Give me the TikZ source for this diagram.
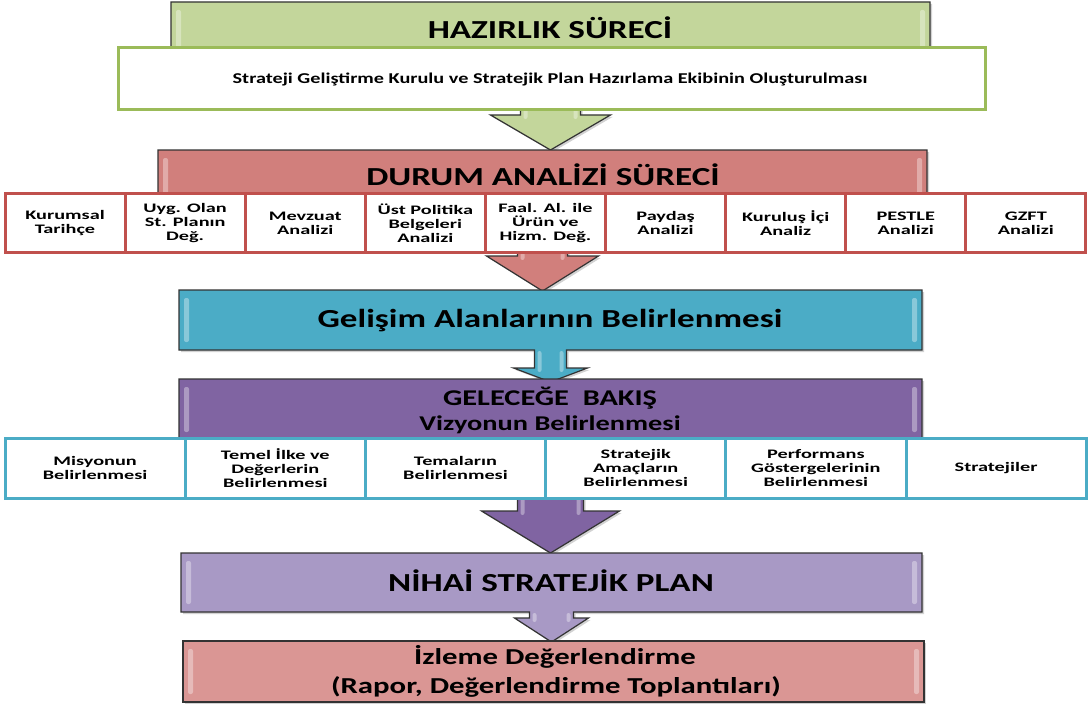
\documentclass[tikz,border=0pt]{standalone}
\usepackage{fontspec}
\setmainfont{Carlito}[FakeStretch=1.35]
\newfontfamily\cellfont{Carlito}[FakeStretch=1.56]
\usetikzlibrary{shadows}
\definecolor{grfill}{HTML}{C3D69B}
\definecolor{grline}{HTML}{9BBB59}
\definecolor{rdfill}{HTML}{D17F7C}
\definecolor{rdline}{HTML}{C0504D}
\definecolor{blfill}{HTML}{4BACC6}
\definecolor{ppfill}{HTML}{8064A2}
\definecolor{lpfill}{HTML}{A899C5}
\definecolor{lrfill}{HTML}{DA9694}
\tikzset{
  calloutshape/.style={draw=black!80, line width=1.2pt, line join=miter,
    drop shadow={shadow xshift=2pt, shadow yshift=-2pt, opacity=.35}},
  gloss/.style={fill=white, opacity=.35, rounded corners=2pt},
  title/.style={font=\bfseries\fontsize{26}{28}\selectfont, text=black, align=center},
  subtitle/.style={font=\bfseries\fontsize{22.5}{26}\selectfont, text=black, align=center},
  bottomtext/.style={font=\bfseries\fontsize{22.8}{26}\selectfont, text=black, align=center},
  redcell/.style={draw=rdline, fill=white, line width=3pt},
  bluecell/.style={draw=blfill, fill=white, line width=3pt},
  celltext/.style={font=\cellfont\bfseries\fontsize{13}{14}\selectfont, align=center, text=black},
  smalltext/.style={font=\bfseries\fontsize{15}{17}\selectfont, text=black}
}
% #1 fill, #2 x1, #3 y1, #4 x2, #5 y2, #6 shaft half, #7 y wing, #8 wing half, #9 y tip
\newcommand\drawcallout[9]{%
  \pgfmathsetmacro\cx{(#2+#4)/2}%
  \draw[calloutshape, fill=#1] (#2,#3) -- (#4,#3) -- (#4,#5) -- (\cx+#6,#5) -- (\cx+#6,#7)
    -- (\cx+#8,#7) -- (\cx,#9) -- (\cx-#8,#7) -- (\cx-#6,#7) -- (\cx-#6,#5) -- (#2,#5) -- cycle;
  \fill[gloss] (#2+5,#3+8) rectangle (#2+10,#5-8);
  \fill[gloss] (#4-10,#3+8) rectangle (#4-5,#5-8);
  \fill[gloss] (\cx-#6+3,#5+1) rectangle (\cx-#6+7,#7+4);
  \fill[gloss] (\cx+#6-7,#5+1) rectangle (\cx+#6-3,#7+4);
}
\begin{document}
\begin{tikzpicture}[x=1pt,y=-1pt]
\useasboundingbox[fill=white] (0,0) rectangle (1088,709);

% HAZIRLIK
\drawcallout{grfill}{171}{2}{930}{108}{30}{115}{60}{150}
\node[title] (hazirlik) at (550,28) {HAZIRLIK SÜRECİ};
\draw[draw=grline, fill=white, line width=3pt] (118,48) rectangle (985,110);
\node[smalltext] (kurul) at (550,79) {Strateji Geliştirme Kurulu ve Stratejik Plan Hazırlama Ekibinin Oluşturulması};

% DURUM ANALIZI
\drawcallout{rdfill}{158}{150}{927}{250}{25}{256}{56}{291}
\node[title] (durum) at (543,175) {DURUM ANALİZİ SÜRECİ};
\foreach \i/\t in {0/{Kurumsal\\Tarihçe},1/{Uyg. Olan\\St. Planın\\Değ.},2/{Mevzuat\\Analizi},
  3/{Üst Politika\\Belgeleri\\Analizi},4/{Faal. Al. ile\\Ürün ve\\Hizm. Değ.},5/{Paydaş\\Analizi},
  6/{Kuruluş İçi\\Analiz},7/{PESTLE\\Analizi},8/{GZFT\\Analizi}}{
  \pgfmathsetmacro\xa{5+\i*120.1}
  \pgfmathsetmacro\xb{5+(\i+1)*120.1}
  \draw[redcell] (\xa,193) rectangle (\xb,252);
  \node[celltext] (da\i) at ({(\xa+\xb)/2},223) {\t};
}

% GELISIM
\drawcallout{blfill}{179}{290}{922}{350}{16}{368}{37}{382}
\node[title] (gelisim) at (550,321) {Gelişim Alanlarının Belirlenmesi};

% GELECEGE BAKIS
\drawcallout{ppfill}{179}{379}{922}{440}{33}{511}{69}{553}
\node[subtitle] (gelecek) at (550,398) {GELECEĞE\ \ BAKIŞ};
\node[subtitle, font=\bfseries\fontsize{21}{24}\selectfont] (vizyon) at (550,425) {Vizyonun Belirlenmesi};
\foreach \i/\t in {0/{Misyonun\\Belirlenmesi},1/{Temel İlke ve\\Değerlerin\\Belirlenmesi},2/{Temaların\\Belirlenmesi},
  3/{Stratejik\\Amaçların\\Belirlenmesi},4/{Performans\\Göstergelerinin\\Belirlenmesi},5/{Stratejiler}}{
  \pgfmathsetmacro\xa{5+\i*180.2}
  \pgfmathsetmacro\xb{5+(\i+1)*180.2}
  \draw[bluecell] (\xa,438) rectangle (\xb,498);
  \node[celltext] (gb\i) at ({(\xa+\xb)/2},468) {\t};
}

% NIHAI
\drawcallout{lpfill}{181}{553}{922}{612}{22}{618}{37}{642}
\node[title] (nihai) at (551,581) {NİHAİ STRATEJİK PLAN};

% IZLEME
\draw[calloutshape, fill=lrfill] (183,641) rectangle (924,702);
\fill[gloss] (188,649) rectangle (193,694);
\fill[gloss] (914,649) rectangle (919,694);
\node[bottomtext] (izleme) at (555,657) {İzleme Değerlendirme};
\node[bottomtext] (rapor) at (556,687) {(Rapor, Değerlendirme Toplantıları)};
\end{tikzpicture}
\end{document}
